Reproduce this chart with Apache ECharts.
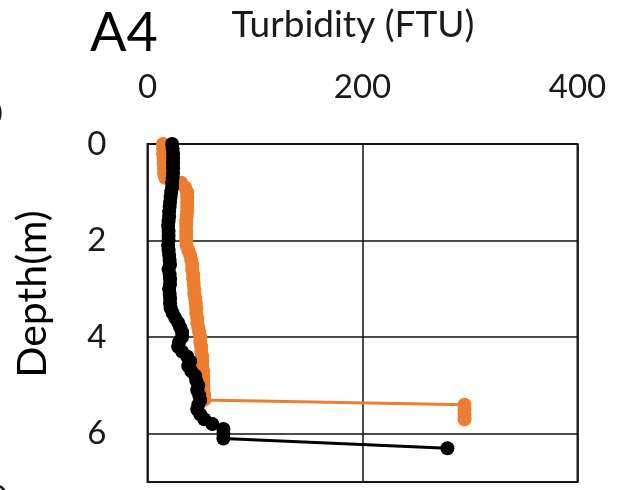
<!DOCTYPE html>
<html>
<head>
<meta charset="utf-8">
<script src="https://cdn.jsdelivr.net/npm/echarts@6/dist/echarts.min.js"></script>
<style>html,body{margin:0;padding:0;background:#fff;}#c{width:628px;height:490px;}</style>
</head>
<body>
<div id="c"></div>
<script>
// Depth (m) and turbidity (FTU), black profile
const depthBlack = [0.0,0.1,0.2,0.3,0.4,0.5,0.6,0.7,0.8,0.9,1.0,1.1,1.2,1.3,1.4,1.5,1.6,1.7,1.8,1.9,2.0,2.1,2.2,2.3,2.4,2.5,2.6,2.7,2.8,2.9,3.0,3.1,3.2,3.3,3.4,3.5,3.6,3.7,3.8,3.9,4.0,4.1,4.2,4.3,4.4,4.5,4.6,4.7,4.8,4.9,5.0,5.1,5.2,5.3,5.4,5.5,5.6,5.7,5.8,5.9,6.0,6.1,6.3];
const turbBlack  = [22.9,23.4,23.8,23.8,23.8,23.8,23.8,23.4,22.9,22.9,22.0,21.5,21.0,20.6,20.1,20.1,19.6,19.2,19.6,19.6,19.6,19.2,19.6,20.1,20.6,21.0,19.6,20.6,21.0,21.0,20.1,20.6,21.0,21.0,21.5,23.4,25.7,28.5,30.4,32.2,32.2,29.4,28.5,32.2,36.9,39.7,37.9,40.7,44.4,45.3,47.2,46.3,48.1,49.1,47.2,46.3,49.1,52.8,60.3,70.6,70.6,70.6,279];
// Orange profile
const depthOrange = [0.0,0.1,0.2,0.3,0.4,0.5,0.6,0.7,0.8,0.9,1.0,1.1,1.2,1.3,1.4,1.5,1.6,1.7,1.8,1.9,2.0,2.1,2.2,2.3,2.4,2.5,2.6,2.7,2.8,2.9,3.0,3.1,3.2,3.3,3.4,3.5,3.6,3.7,3.8,3.9,4.0,4.1,4.2,4.3,4.4,4.5,4.6,4.7,4.8,4.9,5.0,5.1,5.2,5.3,5.4,5.5,5.6,5.7];
const turbOrange  = [14.5,14.5,14.5,15.0,15.0,15.4,15.4,16.4,31.3,35.0,36.9,36.9,36.9,36.9,36.9,36.4,36.0,36.0,36.0,36.0,36.0,36.4,37.9,39.7,40.7,41.6,41.6,42.5,42.5,43.0,43.5,43.5,44.4,44.9,45.3,45.3,46.3,46.3,47.2,48.1,49.1,49.1,50.0,50.0,50.9,50.9,50.9,51.9,51.9,51.9,51.9,51.9,52.8,52.8,294.9,294.9,294.9,294.9];
const xTicks = [0, 200, 400];
const yTicks = [0, 2, 4, 6];

const FONT = 'Lato, "Open Sans", sans-serif';
const TXT = '#1a1a1a';

const chart = echarts.init(document.getElementById('c'), null, {renderer: 'canvas'});
chart.setOption({
  animation: false,
  backgroundColor: '#fff',
  grid: {left: 147.5, right: 50.5, top: 144, bottom: 8, show: true, borderColor: '#222', borderWidth: 2, containLabel: false},
  xAxis: {
    type: 'value', position: 'top', min: xTicks[0], max: xTicks[xTicks.length-1], interval: 200,
    axisLine: {show: false}, axisTick: {show: false},
    splitLine: {show: true, lineStyle: {color: '#111', width: 1.5}},
    axisLabel: {fontFamily: FONT, fontSize: 33, color: TXT, margin: 40}
  },
  yAxis: {
    type: 'value', inverse: true, min: 0, max: 7, interval: 2,
    axisLine: {show: false}, axisTick: {show: false},
    splitLine: {show: true, lineStyle: {color: '#111', width: 1.5}},
    axisLabel: {fontFamily: FONT, fontSize: 33, color: TXT, margin: 41, showMaxLabel: false,
      formatter: v => yTicks.indexOf(v) >= 0 ? String(v) : ''}
  },
  series: [
    {
      type: 'line', name: 'orange',
      data: depthOrange.map((d, i) => [turbOrange[i], d]),
      symbol: 'circle', symbolSize: 14, showSymbol: true,
      lineStyle: {color: '#ED7D31', width: 3},
      itemStyle: {color: '#ED7D31'},
      z: 2
    },
    {
      type: 'line', name: 'black',
      data: depthBlack.map((d, i) => [turbBlack[i], d]),
      symbol: 'circle', symbolSize: 14, showSymbol: true,
      lineStyle: {color: '#000', width: 3},
      itemStyle: {color: '#000'},
      z: 3
    }
  ],
  graphic: [
    {type: 'text', x: 124, y: 34, style: {text: 'A4', font: '54px ' + FONT, fill: '#000', textAlign: 'center', textVerticalAlign: 'middle'}},
    {type: 'text', x: 353, y: 25, style: {text: 'Turbidity (FTU)', font: '37px ' + FONT, fill: TXT, textAlign: 'center', textVerticalAlign: 'middle'}},
    {type: 'text', x: 33, y: 294, rotation: Math.PI / 2, style: {text: 'Depth(m)', font: '41px ' + FONT, fill: '#000', textAlign: 'center', textVerticalAlign: 'middle'}},
    {type: 'text', x: -7, y: 114, style: {text: '0', font: '33px ' + FONT, fill: TXT, textAlign: 'center', textVerticalAlign: 'middle'}},
    {type: 'text', x: -2, y: 498, style: {text: '0', font: '33px ' + FONT, fill: TXT, textAlign: 'center', textVerticalAlign: 'middle'}}
  ]
});
</script>
</body>
</html>
